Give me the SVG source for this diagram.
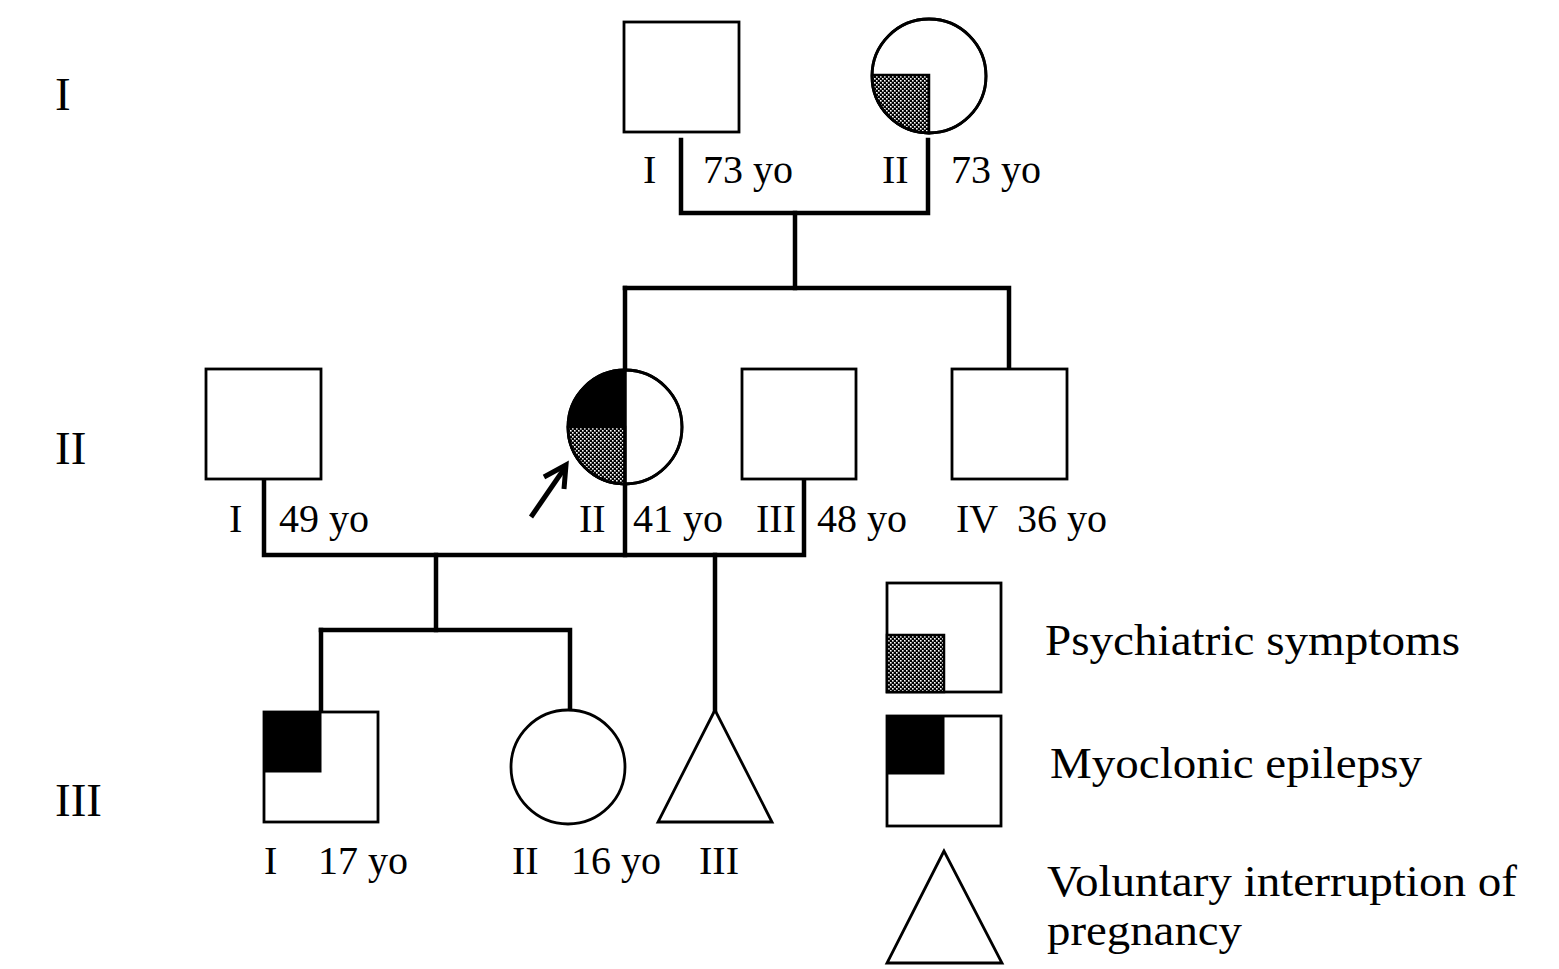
<svg xmlns="http://www.w3.org/2000/svg" width="1559" height="969" viewBox="0 0 1559 969">
<defs>
<pattern id="stip" width="4" height="4" patternUnits="userSpaceOnUse">
<rect width="4" height="4" fill="#000"/>
<rect x="0" y="0" width="1.6" height="1.6" fill="#fff"/>
<rect x="2" y="2" width="1.6" height="1.6" fill="#fff"/>
</pattern>
<style>
.sh{fill:#fff;stroke:#000;stroke-width:2.8}
.st{fill:url(#stip);stroke:#000;stroke-width:2.5}
.bk{fill:#000;stroke:#000;stroke-width:1}
.ln{fill:none;stroke:#000;stroke-width:4.5;stroke-linecap:square}
.ar{fill:none;stroke:#000;stroke-width:5;stroke-linecap:butt;stroke-linejoin:miter}
text{font-family:"Liberation Serif","Times New Roman",serif;fill:#000}
.gen{font-size:47px}
.lb{font-size:40px}
.lg{font-size:45px}
</style>
</defs>
<rect width="1559" height="969" fill="#fff"/>

<g id="generation-labels">
<text class="gen" x="55" y="110">I</text>
<text class="gen" x="55" y="464">II</text>
<text class="gen" x="55" y="816">III</text>
</g>

<g id="connectors">
<path class="ln" d="M681,140 V213 H928 V140"/>
<path class="ln" d="M795,213 V288"/>
<path class="ln" d="M625,288 H1009 V367"/>
<path class="ln" d="M625,288 V371"/>
<path class="ln" d="M264,481 V555 H804 V481"/>
<path class="ln" d="M625,484 V555"/>
<path class="ln" d="M436,555 V630"/>
<path class="ln" d="M321,630 H570 V710"/>
<path class="ln" d="M321,630 V712"/>
<path class="ln" d="M715,555 V710"/>
</g>

<g id="I-I">
<rect class="sh" x="624" y="22" width="115" height="110"/>
<text class="lb" x="643" y="183">I</text>
<text class="lb" x="703" y="183">73 yo</text>
</g>

<g id="I-II">
<circle class="sh" cx="929" cy="76" r="57"/>
<path class="st" d="M929,75 H872.2 A57,57 0 0 0 929,133 Z"/>
<circle cx="929" cy="76" r="57" fill="none" stroke="#000" stroke-width="2.8"/>
<text class="lb" x="882" y="183">II</text>
<text class="lb" x="951" y="183">73 yo</text>
</g>

<g id="II-I">
<rect class="sh" x="206" y="369" width="115" height="110"/>
<text class="lb" x="229" y="532">I</text>
<text class="lb" x="279" y="532">49 yo</text>
</g>

<g id="II-II">
<circle class="sh" cx="625" cy="427" r="57"/>
<path class="bk" d="M625,427 H568 A57,57 0 0 1 625,370 Z"/>
<path class="st" d="M625,427 H568 A57,57 0 0 0 625,484 Z"/>
<line x1="625" y1="370" x2="625" y2="484" stroke="#000" stroke-width="3.5"/>
<circle cx="625" cy="427" r="57" fill="none" stroke="#000" stroke-width="2.8"/>
<path class="ar" d="M531,517 L564,469"/>
<path class="ar" d="M544,477 L566,465 L564,489"/>
<text class="lb" x="579" y="532">II</text>
<text class="lb" x="633" y="532">41 yo</text>
</g>

<g id="II-III">
<rect class="sh" x="742" y="369" width="114" height="110"/>
<text class="lb" x="756" y="532">III</text>
<text class="lb" x="817" y="532">48 yo</text>
</g>

<g id="II-IV">
<rect class="sh" x="952" y="369" width="115" height="110"/>
<text class="lb" x="956" y="532">IV</text>
<text class="lb" x="1017" y="532">36 yo</text>
</g>

<g id="III-I">
<rect class="sh" x="264" y="712" width="114" height="110"/>
<rect class="bk" x="264" y="712" width="57" height="60"/>
<text class="lb" x="264" y="874">I</text>
<text class="lb" x="318" y="874">17 yo</text>
</g>

<g id="III-II">
<circle class="sh" cx="568" cy="767" r="57"/>
<text class="lb" x="512" y="874">II</text>
<text class="lb" x="571" y="874">16 yo</text>
</g>

<g id="III-III">
<polygon class="sh" points="715,710 658,822 772,822"/>
<text class="lb" x="699" y="874">III</text>
</g>

<g id="legend-psychiatric">
<rect class="sh" x="887" y="583" width="114" height="109"/>
<rect class="st" x="887" y="635" width="57" height="57"/>
<text class="lg" x="1045" y="655" textLength="415" lengthAdjust="spacingAndGlyphs">Psychiatric symptoms</text>
</g>

<g id="legend-epilepsy">
<rect class="sh" x="887" y="716" width="114" height="110"/>
<rect class="bk" x="887" y="716" width="57" height="58"/>
<text class="lg" x="1050" y="778" textLength="372" lengthAdjust="spacingAndGlyphs">Myoclonic epilepsy</text>
</g>

<g id="legend-vip">
<polygon class="sh" points="944,851 887,963 1002,963"/>
<text class="lg" x="1047" y="896" textLength="470" lengthAdjust="spacingAndGlyphs">Voluntary interruption of</text>
<text class="lg" x="1047" y="945" textLength="195" lengthAdjust="spacingAndGlyphs">pregnancy</text>
</g>
</svg>
